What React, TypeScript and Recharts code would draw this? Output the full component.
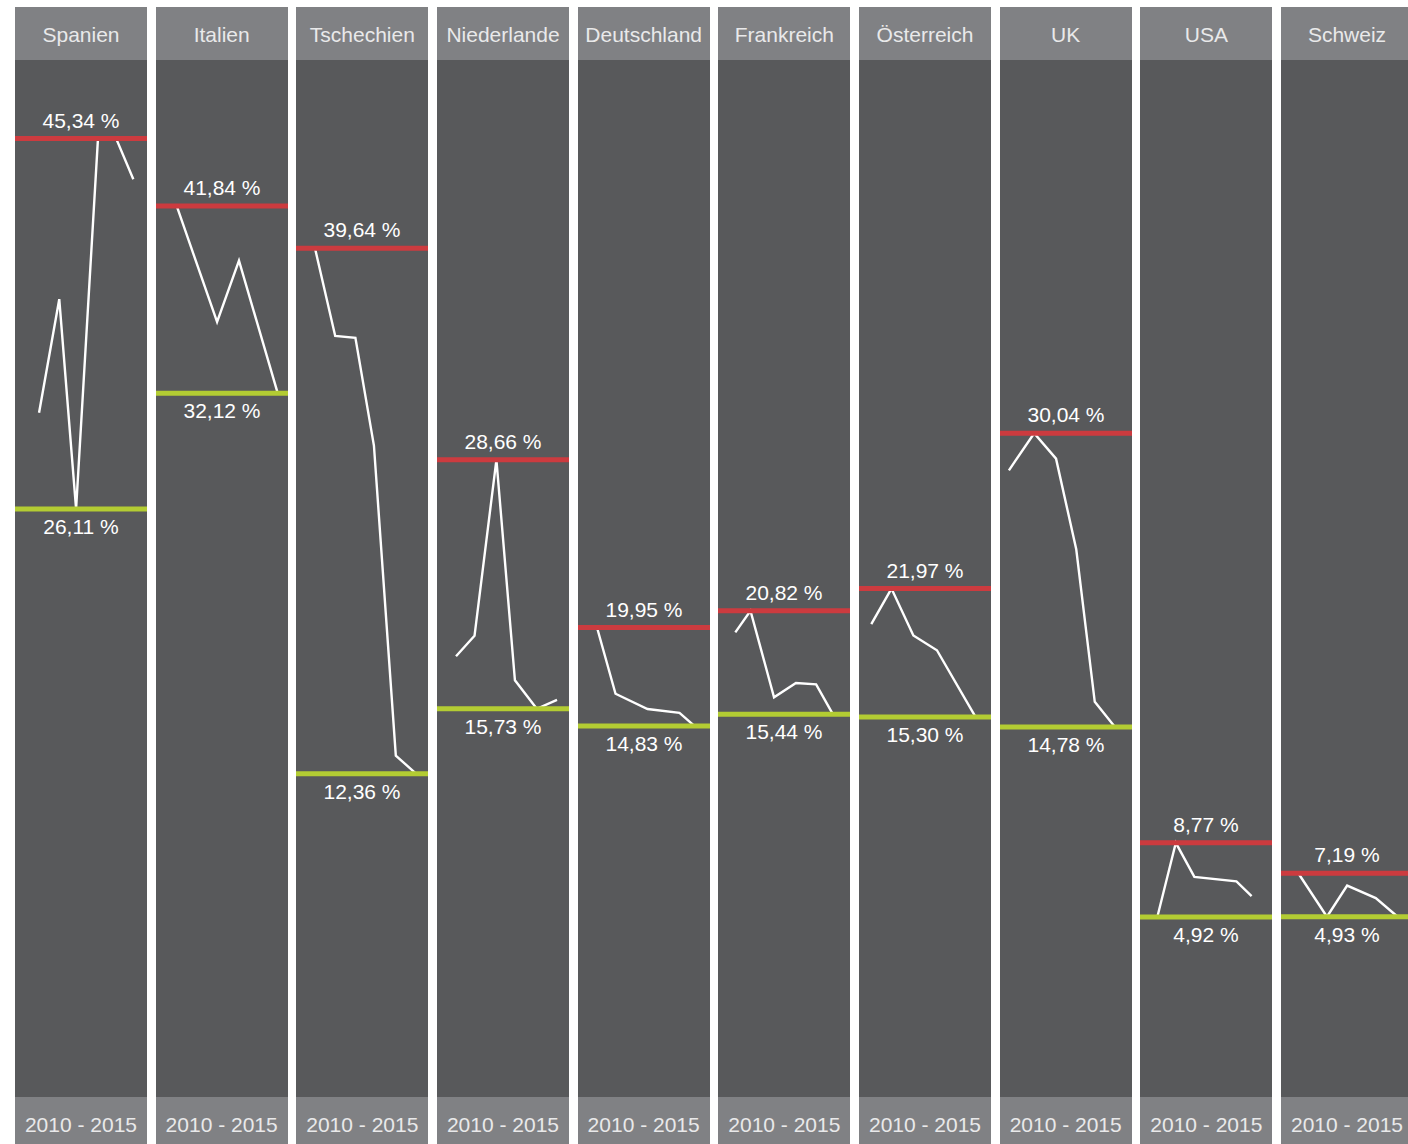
import React from 'react';
import { LineChart, Line, XAxis, YAxis, ReferenceLine } from 'recharts';

const countries = ['Spanien', 'Italien', 'Tschechien', 'Niederlande', 'Deutschland', 'Frankreich', 'Österreich', 'UK', 'USA', 'Schweiz'];
const maxValues = [45.34, 41.84, 39.64, 28.66, 19.95, 20.82, 21.97, 30.04, 8.77, 7.19];
const minValues = [26.11, 32.12, 12.36, 15.73, 14.83, 15.44, 15.3, 14.78, 4.92, 4.93];
const periodLabel = '2010 - 2015';

// month index (months since January 2010) and value (%) of each vertex
const spanienMonths = [3, 15, 25, 38, 49, 59];
const spanienValues = [31.1, 37.0, 26.11, 45.34, 45.3, 43.23];
const italienMonths = [1, 25, 38, 61];
const italienValues = [41.84, 35.82, 39.0, 32.12];
const tschechienMonths = [0, 12, 24, 35, 48, 60];
const tschechienValues = [39.64, 35.09, 34.99, 29.4, 13.3, 12.36];
const niederlandeMonths = [0, 11, 24, 35, 48, 60];
const niederlandeValues = [18.46, 19.52, 28.66, 17.21, 15.73, 16.19];
const deutschlandMonths = [0, 11, 30, 49, 58];
const deutschlandValues = [19.95, 16.51, 15.72, 15.52, 14.83];
const frankreichMonths = [-1, 8, 22, 35, 47, 57];
const frankreichValues = [19.7, 20.82, 16.33, 17.07, 17.0, 15.44];
const oesterreichMonths = [-4, 8, 21, 35, 58];
const oesterreichValues = [20.13, 21.97, 19.54, 18.77, 15.3];
const ukMonths = [-6, 9, 22, 34, 45, 57];
const ukValues = [28.11, 30.04, 28.72, 24.01, 16.09, 14.78];
const usaMonths = [-1, 10, 21, 46, 55];
const usaValues = [4.92, 8.77, 7.0, 6.77, 6.0];
const schweizMonths = [-1, 16, 28, 45, 58];
const schweizValues = [7.19, 4.93, 6.55, 5.9, 4.93];

const seriesMonths = [spanienMonths, italienMonths, tschechienMonths, niederlandeMonths, deutschlandMonths, frankreichMonths, oesterreichMonths, ukMonths, usaMonths, schweizMonths];
const seriesValues = [spanienValues, italienValues, tschechienValues, niederlandeValues, deutschlandValues, frankreichValues, oesterreichValues, ukValues, usaValues, schweizValues];

const X_DOMAIN: [number, number] = [-11.29, 67.12];
const Y_DOMAIN: [number, number] = [-4.43, 49.42];

const FONT = '"Liberation Sans", Arial, Helvetica, sans-serif';
const HEADER_BG = '#808184';
const BODY_BG = '#58595b';
const RED = '#cc3b3f';
const GREEN = '#b3cc33';
const HEADER_TEXT = '#e9e9ea';

const LEFT0 = 15;
const PITCH = 140.67;
const PANEL_W = 132;
const TOP = 7;
const HEADER_H = 53;
const BODY_H = 1037;
const FOOTER_H = 53;

const fmt = (v: number) => v.toFixed(2).replace('.', ',') + ' %';

function Panel({ i }: { i: number }) {
  const data = seriesMonths[i].map((m, k) => ({ m, v: seriesValues[i][k] }));
  const band: React.CSSProperties = {
    height: HEADER_H,
    lineHeight: HEADER_H + 'px',
    background: HEADER_BG,
    color: HEADER_TEXT,
    fontFamily: FONT,
    fontSize: 21,
    textAlign: 'center',
    whiteSpace: 'nowrap',
    overflow: 'hidden',
    paddingTop: 1,
    boxSizing: 'border-box',
  };
  return (
    <div style={{ position: 'absolute', left: LEFT0 + i * PITCH, top: TOP, width: PANEL_W }}>
      <div style={band}>{countries[i]}</div>
      <div style={{ height: BODY_H, background: BODY_BG }}>
        <LineChart width={PANEL_W} height={BODY_H} data={data} margin={{ top: 0, right: 0, bottom: 0, left: 0 }}>
          <XAxis dataKey="m" type="number" domain={X_DOMAIN} hide allowDataOverflow />
          <YAxis type="number" domain={Y_DOMAIN} hide allowDataOverflow />
          <Line
            dataKey="v"
            type="linear"
            stroke="#ffffff"
            strokeWidth={2.4}
            dot={false}
            activeDot={false}
            isAnimationActive={false}
          />
          <ReferenceLine
            y={maxValues[i]}
            stroke={RED}
            strokeWidth={5}
            label={{ value: fmt(maxValues[i]), position: 'top', offset: 11, fill: '#ffffff', fontSize: 21, fontFamily: FONT }}
          />
          <ReferenceLine
            y={minValues[i]}
            stroke={GREEN}
            strokeWidth={5}
            label={{ value: fmt(minValues[i]), position: 'bottom', offset: 10, fill: '#ffffff', fontSize: 21, fontFamily: FONT }}
          />
        </LineChart>
      </div>
      <div style={{ ...band, height: FOOTER_H, lineHeight: FOOTER_H + 'px' }}>{periodLabel}</div>
    </div>
  );
}

export default function App() {
  return (
    <div style={{ position: 'absolute', left: 0, top: 0, width: 1408, height: 1144, overflow: 'hidden', background: '#ffffff' }}>
      {countries.map((c, i) => (
        <Panel key={c} i={i} />
      ))}
    </div>
  );
}
